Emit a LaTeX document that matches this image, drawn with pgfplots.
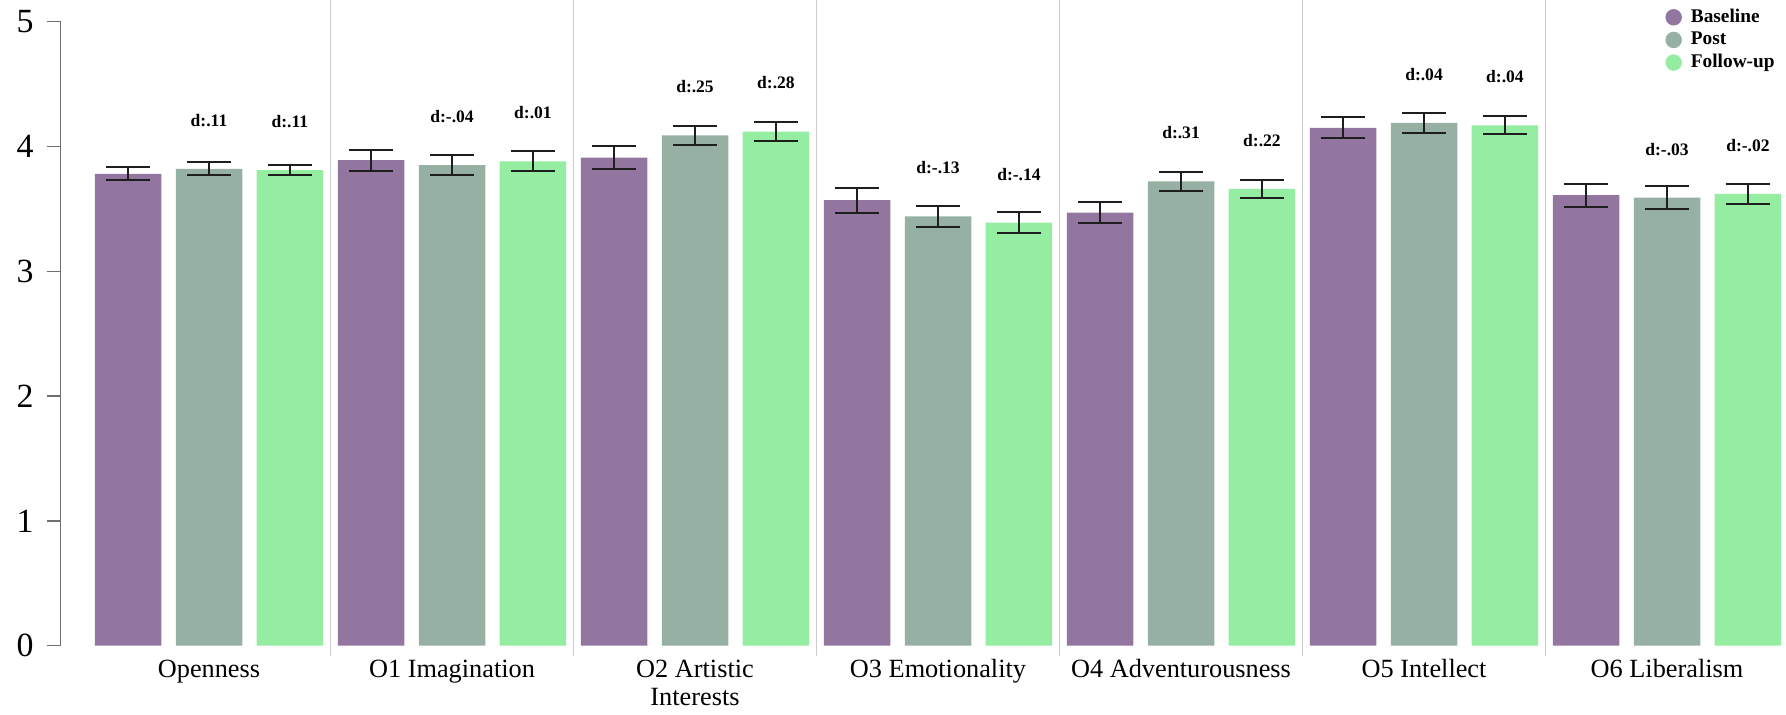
\documentclass[border=0pt]{standalone}
\usepackage{pgfplots}
\pgfplotsset{compat=1.18}
\usepackage{pgfplotstable}
\usepackage{fontspec}
\setmainfont{Liberation Serif}

\definecolor{baseC}{RGB}{146,118,160}
\definecolor{postC}{RGB}{150,177,163}
\definecolor{followC}{RGB}{148,237,161}
\definecolor{sepC}{RGB}{204,204,204}
\definecolor{axisC}{RGB}{110,110,110}
\definecolor{errC}{RGB}{30,30,30}

% group means, standard errors and effect sizes (d) per facet
\pgfplotstableread{
x      y     e
-0.333 3.78  0.052
0.667  3.89  0.085
1.667  3.91  0.090
2.667  3.57  0.100
3.667  3.47  0.087
4.667  4.15  0.083
5.667  3.61  0.092
}\tabBase

\pgfplotstableread{
x  y     e     d
0  3.82  0.052 d:.11
1  3.85  0.080 d:-.04
2  4.09  0.075 d:.25
3  3.44  0.087 d:-.13
4  3.72  0.078 d:.31
5  4.19  0.078 d:.04
6  3.59  0.090 d:-.03
}\tabPost

\pgfplotstableread{
x      y     e     d
0.333  3.81  0.038 d:.11
1.333  3.88  0.080 d:.01
2.333  4.12  0.080 d:.28
3.333  3.39  0.087 d:-.14
4.333  3.66  0.072 d:.22
5.333  4.17  0.072 d:.04
6.333  3.62  0.083 d:-.02
}\tabFollow

\pgfplotsset{
  facetbar/.style={
    ybar, bar width=33.25bp, bar shift=0pt, draw=none, forget plot,
    error bars/y dir=both, error bars/y explicit,
    error bars/error bar style={line width=1bp, draw=errC},
    error bars/error mark options={rotate=90, line width=1bp, mark size=11bp, draw=errC},
  },
  dlabels/.style={
    point meta=explicit symbolic,
    nodes near coords,
    nodes near coords style={font=\bfseries\fontsize{8.8}{10}\selectfont,
      text=black, anchor=center, yshift=24.25bp},
  },
}

\begin{document}
\begin{tikzpicture}
\begin{axis}[
  x=121.5bp, y=62.4bp,
  xmin=-0.6103, xmax=6.4897, ymin=0, ymax=5,
  clip=false,
  axis y line*=left, axis x line*=bottom,
  x axis line style={draw=none},
  y axis line style={draw=axisC, line width=0.75bp, -},
  xtick={0,...,6},
  xticklabels={Openness, O1 Imagination, {O2 Artistic\\Interests}, O3 Emotionality,
    O4 Adventurousness, O5 Intellect, O6 Liberalism},
  ytick={0,...,5},
  tick align=outside,
  major tick length=7bp,
  xtick style={draw=none},
  ytick style={draw=axisC, line width=0.75bp},
  /pgf/number format/assume math mode=true,
  yticklabel style={font=\fontsize{17}{19}\selectfont, xshift=-3bp},
  xticklabel style={font=\fontsize{13.2}{14}\selectfont, align=center, anchor=north,
    yshift=3.5bp},
  legend style={at={(axis cs:5.992,5.12)}, anchor=north west, draw=none, fill=none,
    inner sep=0pt, font=\bfseries\fontsize{9.7}{11}\selectfont, row sep=1.3bp,
    nodes={inner sep=1bp}, legend cell align=left,
    /tikz/every odd column/.style={column sep=3.5bp}},
]
% group separators
\pgfplotsinvokeforeach{0.5,1.5,2.5,3.5,4.5,5.5}{
  \draw[sepC, line width=0.8bp] (axis cs:#1,-0.08) -- (axis cs:#1,5.1739);
}

\addplot[facetbar, fill=baseC] table[x=x, y=y, y error=e] {\tabBase};
\addplot[facetbar, fill=postC, dlabels] table[x=x, y=y, y error=e, meta=d] {\tabPost};
\addplot[facetbar, fill=followC, dlabels] table[x=x, y=y, y error=e, meta=d] {\tabFollow};

\addlegendimage{legend image code/.code={\fill[baseC] (0bp,0bp) circle (3.9bp);}}
\addlegendentry{Baseline}
\addlegendimage{legend image code/.code={\fill[postC] (0bp,0bp) circle (3.9bp);}}
\addlegendentry{Post}
\addlegendimage{legend image code/.code={\fill[followC] (0bp,0bp) circle (3.9bp);}}
\addlegendentry{Follow-up}

\coordinate (bl) at (axis cs:-0.8601,-0.5553);
\coordinate (tr) at (axis cs:6.4897,5.1739);
\end{axis}
\pgfresetboundingbox
\path[use as bounding box] (bl) rectangle (tr);
\end{tikzpicture}
\end{document}
